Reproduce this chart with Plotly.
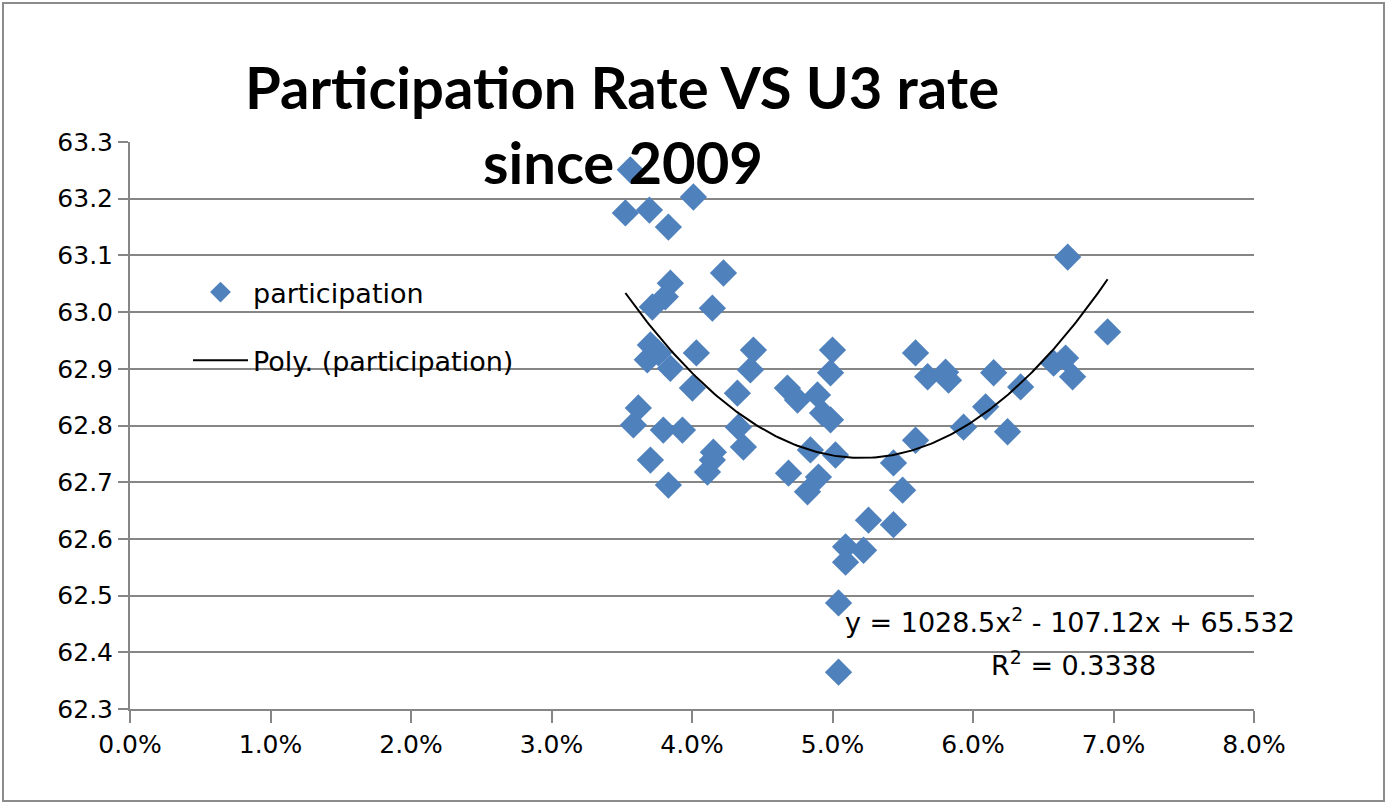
import numpy as np
import plotly.graph_objects as go

# U3 unemployment rate (fraction) and labour-force participation rate (%), since 2009
u3_rate = [
    0.03561, 0.03526, 0.03697, 0.03832, 0.04010, 0.04224, 0.04145, 0.03846, 0.03810, 0.03718,
    0.03704, 0.03682, 0.03761, 0.03846, 0.04031, 0.04003, 0.03618, 0.03583, 0.03796, 0.03932,
    0.03704, 0.03832, 0.04437, 0.04416, 0.04323, 0.04330, 0.04366, 0.04152, 0.04110, 0.04145,
    0.05000, 0.04986, 0.04679, 0.04751, 0.04893, 0.04929, 0.04986, 0.04843, 0.05021, 0.04687,
    0.04822, 0.04900, 0.05256, 0.05434, 0.05093, 0.05221, 0.05093, 0.05043, 0.05043, 0.05434,
    0.05499, 0.05591, 0.05591, 0.05677, 0.05805, 0.05826, 0.05933, 0.06090, 0.06147, 0.06339,
    0.06246, 0.06674, 0.06958, 0.06574, 0.06659, 0.06709,
]
participation = [
    63.251, 63.175, 63.180, 63.150, 63.203, 63.069, 63.007, 63.051, 63.027, 63.009,
    62.942, 62.916, 62.928, 62.901, 62.928, 62.866, 62.831, 62.801, 62.792, 62.792,
    62.739, 62.695, 62.933, 62.898, 62.857, 62.797, 62.762, 62.753, 62.718, 62.739,
    62.933, 62.893, 62.866, 62.845, 62.854, 62.822, 62.810, 62.757, 62.748, 62.716,
    62.683, 62.709, 62.633, 62.625, 62.586, 62.580, 62.559, 62.487, 62.365, 62.734,
    62.686, 62.774, 62.928, 62.886, 62.894, 62.880, 62.797, 62.833, 62.893, 62.868,
    62.789, 63.097, 62.965, 62.910, 62.919, 62.886,
]

# Quadratic trendline coefficients and fit statistic
poly_a, poly_b, poly_c = 1028.5, -107.12, 65.532
r_squared = 0.3338

x_ticks = [0.00, 0.01, 0.02, 0.03, 0.04, 0.05, 0.06, 0.07, 0.08]
y_ticks = [62.3, 62.4, 62.5, 62.6, 62.7, 62.8, 62.9, 63.0, 63.1, 63.2, 63.3]

W, H = 1387, 804
M_L, M_R, M_T, M_B = 130, 133, 142, 95
BLUE = "#4F81BD"
GRID = "#868686"

trend_x = np.linspace(min(u3_rate), max(u3_rate), 200)
trend_y = poly_a * trend_x ** 2 + poly_b * trend_x + poly_c

fig = go.Figure()
fig.add_trace(go.Scatter(
    x=u3_rate, y=participation, mode="markers", name="participation",
    legendgroup="a",
    marker=dict(symbol="diamond", size=21, color=BLUE, line=dict(width=0)),
))
fig.add_trace(go.Scatter(
    x=trend_x, y=trend_y, mode="lines", name="Poly. (participation)",
    legendgroup="b",
    line=dict(color="black", width=2),
))

# outer chart frame
pw = W - M_L - M_R
ph = H - M_T - M_B
fig.add_shape(
    type="rect", xref="paper", yref="paper",
    x0=-(M_L - 3) / pw, x1=1 + (M_R - 3) / pw,
    y0=-(M_B - 3) / ph, y1=1 + (M_T - 3) / ph,
    line=dict(color="#8C8C8C", width=2), fillcolor="rgba(0,0,0,0)", layer="below",
)

title_font = dict(family="Lato", size=58, color="black", weight="bold")
fig.add_annotation(text="<b>Participation Rate VS U3 rate</b>", xref="paper", yref="paper",
                   x=(622 - M_L) / pw, y=1 + (M_T - 86) / ph, showarrow=False,
                   font=title_font, xanchor="center", yanchor="middle")
fig.add_annotation(text="<b>since 2009</b>", xref="paper", yref="paper",
                   x=(623 - M_L) / pw, y=1 + (M_T - 161) / ph, showarrow=False,
                   font=title_font, xanchor="center", yanchor="middle")

eq_font = dict(family="DejaVu Sans", size=27, color="black")
fig.add_annotation(
    text=f"y = {poly_a}x<sup>2</sup> - {abs(poly_b)}x + {poly_c}",
    xref="paper", yref="paper", x=(1070 - M_L) / pw, y=(H - M_B - 620) / ph,
    showarrow=False, font=eq_font, xanchor="center", yanchor="middle")
fig.add_annotation(
    text=f"R<sup>2</sup> = {r_squared}",
    xref="paper", yref="paper", x=(1073 - M_L) / pw, y=(H - M_B - 663) / ph,
    showarrow=False, font=eq_font, xanchor="center", yanchor="middle")

tick_font = dict(family="DejaVu Sans", size=25, color="black")
fig.update_xaxes(
    range=[0, 0.08], tickvals=x_ticks, tickformat=".1%",
    showgrid=False, zeroline=False, showline=True, linecolor=GRID, linewidth=2,
    ticks="outside", ticklen=12, tickcolor=GRID, tickwidth=2, tickfont=tick_font,
)
fig.update_yaxes(
    range=[62.3, 63.3], tickvals=y_ticks, tickformat=".1f",
    showgrid=True, gridcolor=GRID, gridwidth=2, zeroline=False,
    showline=True, linecolor=GRID, linewidth=2,
    ticks="outside", ticklen=10, tickcolor=GRID, tickwidth=2, tickfont=tick_font,
)

fig.update_layout(
    width=W, height=H,
    margin=dict(l=M_L, r=M_R, t=M_T, b=M_B),
    paper_bgcolor="white", plot_bgcolor="white",
    showlegend=True,
    legend=dict(
        x=(188 - M_L) / pw, y=(H - M_B - 268) / ph, xanchor="left", yanchor="top",
        bgcolor="rgba(255,255,255,0)", font=dict(family="DejaVu Sans", size=27, color="black"),
        tracegroupgap=30, traceorder="grouped", itemwidth=55,
    ),
)

fig.write_html("out.html")
